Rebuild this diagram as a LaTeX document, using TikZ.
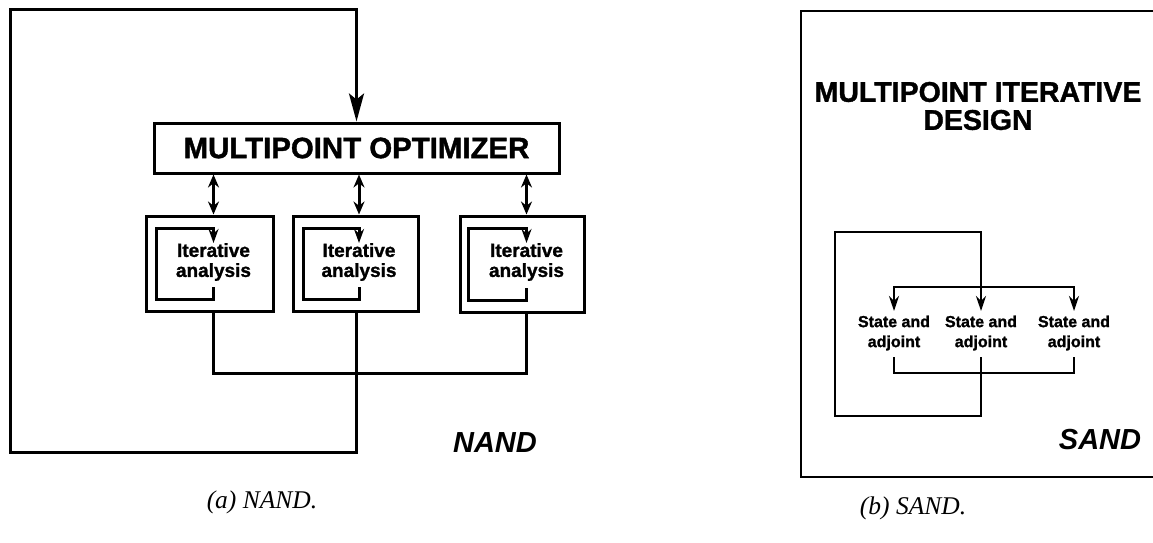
\documentclass[tikz,border=0pt]{standalone}
\usepackage{fontspec}
\setmainfont{Liberation Serif}
\setsansfont{Liberation Sans}[BoldFeatures={FakeBold=1.3}]
\usetikzlibrary{arrows.meta,calc}
\begin{document}
\begin{tikzpicture}[x=1pt,y=-1pt,line join=miter,
  wire/.style={draw=black,line width=3pt},
  wiretwo/.style={draw=black,line width=2.6pt},
  boxn/.style={draw=black,line width=3pt,inner sep=0pt,minimum width=#1},
  bigtip/.style={-{Stealth[length=28pt,width=15pt,inset=6pt]}},
  dbl/.style={{Stealth[length=13pt,width=11pt]}-{Stealth[length=13pt,width=11pt]}},
  smalltip/.style={-{Stealth[length=14pt,width=10pt]}},
  stip/.style={-{Stealth[length=15pt,width=10pt]}},
  lbl/.style={font=\sffamily\bfseries\fontsize{19}{20}\selectfont,align=center,inner sep=0pt},
  slbl/.style={font=\sffamily\bfseries\fontsize{16}{20}\selectfont,align=center,inner sep=0pt},
  tag/.style={font=\sffamily\bfseries\itshape\fontsize{29}{30}\selectfont,inner sep=0pt},
  captxt/.style={font=\itshape\fontsize{25.5}{28}\selectfont,inner sep=0pt}]
\useasboundingbox (0,0) rectangle (1153,543);

% ---------------- NAND ----------------
\node[boxn=405pt,minimum height=50pt,font=\sffamily\bfseries\fontsize{29.4}{30}\selectfont] (opt) at (356.5,148) {MULTIPOINT OPTIMIZER};
\node[boxn=127pt,minimum height=95pt] (b1) at (209.5,263.5) {};
\node[boxn=125pt,minimum height=95pt] (b2) at (356,263.5) {};
\node[boxn=124pt,minimum height=96pt] (b3) at (522,264) {};
\node[lbl] (t1) at (213.5,262) {Iterative\\analysis};
\node[lbl] (t2) at (359,262) {Iterative\\analysis};
\node[lbl] (t3) at (526.5,262) {Iterative\\analysis};

\coordinate (c1) at (10,452);
\coordinate (c2) at (10,10);
\coordinate (bus) at (0,373);

% outer feedback loop
\draw[wire,bigtip] (b2.south) -- (b2.south |- c1) -- (c1) -- (c2) -- (c2 -| opt.north) -- (opt.north);

% optimizer <-> analyses
\draw[wire,dbl] (t1 |- opt.south) -- (t1 |- b1.north);
\draw[wire,dbl] (t2 |- opt.south) -- (t2 |- b2.north);
\draw[wire,dbl] (t3 |- opt.south) -- (t3 |- b3.north);

% inner iteration loops
\draw[wire,smalltip] (t1 |- 0,287) -- (t1 |- 0,299.5) -- (156,299.5) -- (156,228) -- (t1 |- 0,228) -- (t1 |- 0,243);
\draw[wire,smalltip] (t2 |- 0,287) -- (t2 |- 0,299.5) -- (303,299.5) -- (303,228) -- (t2 |- 0,228) -- (t2 |- 0,243);
\draw[wire,smalltip] (t3 |- 0,288) -- (t3 |- 0,300) -- (468,300) -- (468,228) -- (t3 |- 0,228) -- (t3 |- 0,243);

% collector
\draw[wire] (t1 |- b1.south) -- (t1 |- bus) -- (t3 |- bus) -- (t3 |- b3.south);

\node[tag] (nand) at (495,443) {NAND};
\node[captxt] (capa) at (262,502) {(a) NAND.};

% ---------------- SAND ----------------
\coordinate (f1) at (1153,11);
\coordinate (f2) at (801,11);
\coordinate (f3) at (801,477);
\coordinate (f4) at (1153,477);
\draw[wiretwo] (f1) -- (f2) -- (f3) -- (f4);

\node[font=\sffamily\bfseries\fontsize{28.5}{28}\selectfont,align=center,inner sep=0pt] (title) at (978,106) {MULTIPOINT ITERATIVE\\DESIGN};

\node[slbl] (s1) at (894,333) {State and\\adjoint};
\node[slbl] (s2) at (981,333) {State and\\adjoint};
\node[slbl] (s3) at (1074,333) {State and\\adjoint};

\draw[wiretwo] (s1 |- 0,287) -- (s3 |- 0,287);
\draw[wiretwo,stip] (s1 |- 0,286) -- (s1 |- 0,311);
\draw[wiretwo,stip] (s3 |- 0,286) -- (s3 |- 0,311);
\draw[wiretwo,stip] (s2 |- 0,357) -- (s2 |- 0,416) -- (835,416) -- (835,232) -- (s2 |- 0,232) -- (s2 |- 0,311);
\draw[wiretwo] (s1 |- 0,357) -- (s1 |- 0,373) -- (s3 |- 0,373) -- (s3 |- 0,357);

\node[tag] (sand) at (1100,440) {SAND};
\node[captxt] (capb) at (913,508) {(b) SAND.};
\end{tikzpicture}
\end{document}
